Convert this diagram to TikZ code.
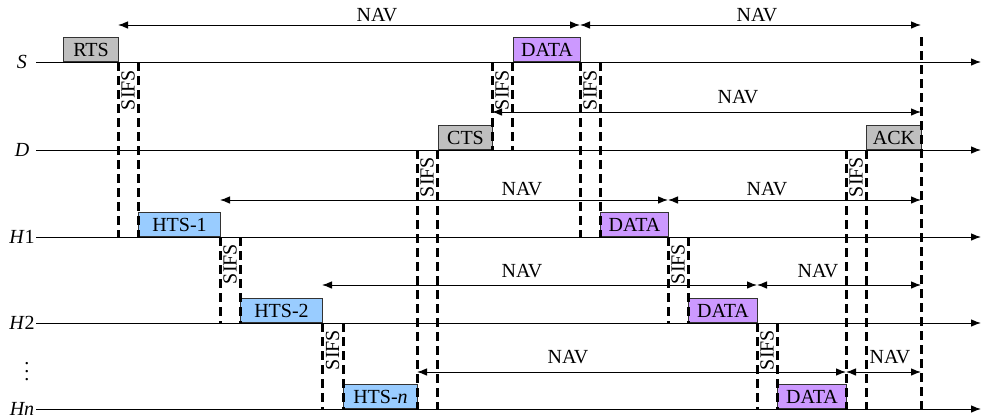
\documentclass[tikz,border=0pt]{standalone}
\usepackage{fontspec}
\setmainfont{Liberation Serif}
\usepackage{tikz}
\usetikzlibrary{arrows.meta,positioning}
\definecolor{htsblue}{RGB}{153,204,255}
\definecolor{datapurple}{RGB}{204,153,255}

\begin{document}
\begin{tikzpicture}[x=0.5pt, y=-0.5pt, font=\fontsize{10}{12}\selectfont,
  >={Latex[length=5pt,width=3.8pt]},
  lane/.style={line width=0.5pt, ->},
  sifsline/.style={line width=1.5pt, dash pattern=on 4.5pt off 2.5pt},
  sifslbl/.style={rotate=90, inner sep=0pt},
  nav/.style={<->, line width=0.5pt},
  navlbl/.style={anchor=base, inner sep=0pt},
  frame/.style={draw=black!80, line width=0.5pt, inner sep=0pt, minimum height=12pt, anchor=south west},
  ctrl/.style={frame, fill=black!25},
  hts/.style={frame, fill=htsblue},
  data/.style={frame, fill=datapurple}]
  \useasboundingbox (0,0) rectangle (982,419);

  % time lines of the stations
  \foreach \n/\y/\t in {S/62/\textit{S}, D/150/\textit{D}, Ha/237/\textit{H}1, Hb/323/\textit{H}2, Hn/409/\textit{Hn}} {
    \coordinate (\n0) at (36,\y);
    \coordinate (\n1) at (981,\y);
    \node (lbl\n) at (22,\y) {\t};
    \draw[lane] (\n0) -- (\n1);
  }
  \node (lbldots) at (27,366) {$\vdots$};

  % frames
  \foreach \n/\s/\a/\b/\y/\t in {rts/ctrl/63/118/62/RTS, cts/ctrl/438/492/150/CTS, ack/ctrl/866/921/150/ACK,
      htsa/hts/138/220/237/HTS-1, htsb/hts/240/322/323/HTS-2, htsn/hts/343/417/409/HTS-\textit{n},
      dataS/data/513/580/62/DATA, dataa/data/600/668/237/DATA, datab/data/688/757/323/DATA, datan/data/777/846/409/DATA} {
    \node[\s, minimum width={(\b-\a)*0.5pt}] (\n) at (\a,\y) {\t};
  }

  % SIFS gaps
  \foreach \i/\a/\b/\top/\bot/\ly in {1/118/138/62/237/90, 2/220/240/237/323/264, 3/322/343/323/409/350,
      4/417/437/150/409/177, 5/492/512/62/150/90, 6/580/600/62/237/90,
      7/668/688/237/323/264, 8/757/777/323/409/350, 9/846/866/150/409/177} {
    \draw[sifsline] (\a,\top) -- (\a,\bot) (\b,\top) -- (\b,\bot);
    \node[sifslbl] (sifs\i) at ({(\a+\b)/2},\ly) {SIFS};
  }
  \coordinate (endtop) at (921,37);
  \coordinate (endbot) at (921,409);
  \draw[sifsline] (endtop) -- (endbot);

  % NAV periods
  \foreach \i/\a/\b/\y/\lx/\ly in {a/118/580/25/377/21, b/580/921/25/757/21, c/492/921/112/738/103,
      d/220/668/200/522/195, e/668/921/200/767/195, f/322/757/285/522/277, g/757/921/285/818/277,
      h/417/846/372/568/363, i/846/921/372/890/363} {
    \coordinate (nav\i0) at (\a,\y);
    \coordinate (nav\i1) at (\b,\y);
    \draw[nav] (nav\i0) -- (nav\i1);
    \node[navlbl] (navl\i) at (\lx,\ly) {NAV};
  }
\end{tikzpicture}
\end{document}
